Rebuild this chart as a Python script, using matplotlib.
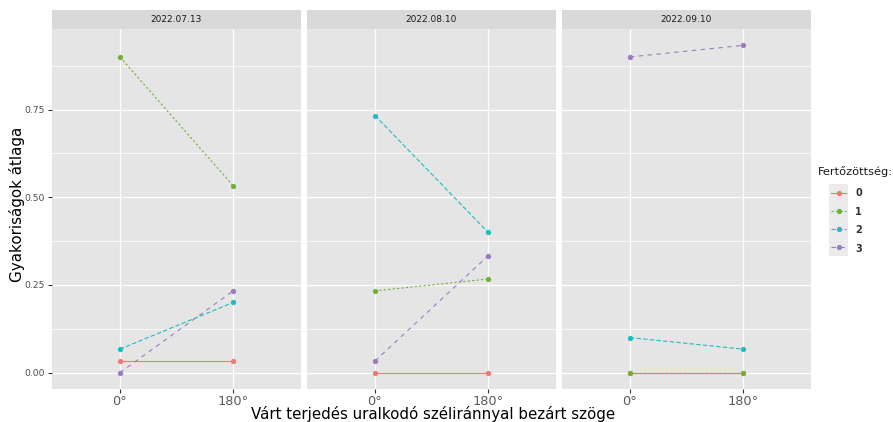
import numpy as np
import matplotlib.pyplot as plt
from matplotlib.lines import Line2D
from matplotlib.patches import Rectangle

# mean frequency by infection level, per sampling date and wind angle
dates = ["2022.07.13", "2022.08.10", "2022.09.10"]
angles = ["0°", "180°"]
levels = ["0", "1", "2", "3"]
means = {
    "2022.07.13": {"0": [0.033, 0.033], "1": [0.9, 0.533], "2": [0.067, 0.2], "3": [0.0, 0.233]},
    "2022.08.10": {"0": [0.0, 0.0], "1": [0.233, 0.267], "2": [0.733, 0.4], "3": [0.033, 0.333]},
    "2022.09.10": {"0": [0.0, 0.0], "1": [0.0, 0.0], "2": [0.1, 0.067], "3": [0.9, 0.933]},
}
yticks = [0.0, 0.25, 0.5, 0.75]

colors = {"0": "#F07A72", "1": "#72B03E", "2": "#1DBDC2", "3": "#9C7BC4"}
styles = {"0": "-", "1": (0, (2, 2)), "2": (0, (4, 2)), "3": (0, (4, 4))}

W, H = 893, 422
fig = plt.figure(figsize=(W / 100, H / 100), dpi=100)

def box(x0, y0, x1, y1):
    return [x0 / W, 1 - y1 / H, (x1 - x0) / W, (y1 - y0) / H]

panel_x = [(52, 301), (307, 556), (562, 811)]
ymax = 0.933
ylim = (-0.05 * ymax, 1.05 * ymax)

for i, d in enumerate(dates):
    x0, x1 = panel_x[i]
    ax = fig.add_axes(box(x0, 29, x1, 389))
    ax.set_facecolor("#E5E5E5")
    for s in ax.spines.values():
        s.set_visible(False)
    ax.set_xlim(0.4, 2.6)
    ax.set_ylim(*ylim)
    ax.set_yticks(yticks)
    ax.set_yticks([0.125, 0.375, 0.625, 0.875], minor=True)
    ax.set_xticks([1, 2])
    ax.set_xticklabels(angles, fontsize=9.3, color="#5A5A5A")
    ax.grid(True, which="major", color="white", linewidth=0.9)
    ax.grid(True, which="minor", axis="y", color="white", linewidth=0.5)
    ax.set_axisbelow(True)
    ax.tick_params(axis="x", length=3, color="#333333", pad=1)
    ax.tick_params(which="minor", length=0)
    if i == 0:
        ax.set_yticklabels(["0.00", "0.25", "0.50", "0.75"], fontsize=6.7, color="#4D4D4D")
        ax.tick_params(axis="y", length=3, color="#333333", pad=2)
    else:
        ax.tick_params(axis="y", length=0, labelleft=False)
    for lv in levels:
        ax.plot([1, 2], means[d][lv], color=colors[lv], linestyle=styles[lv],
                linewidth=0.8, marker="o", markersize=3.8, markeredgewidth=0)

    # facet strip
    sx = fig.add_axes(box(x0, 10, x1, 29))
    sx.set_facecolor("#D9D9D9")
    sx.set_xticks([])
    sx.set_yticks([])
    for s in sx.spines.values():
        s.set_visible(False)
    sx.text(0.5, 0.5, d, ha="center", va="center", fontsize=6.5, color="#1A1A1A")

fig.text(17 / W, 1 - 204 / H, "Gyakoriságok átlaga", rotation=90, ha="center",
         va="center", fontsize=10.9, color="black")
fig.text(433 / W, 1 - 414 / H, "Várt terjedés uralkodó széliránnyal bezárt szöge",
         ha="center", va="center", fontsize=10.8, color="black")

# legend
fig.text(818 / W, 1 - 172 / H, "Fertőzöttség:", ha="left", va="center",
         fontsize=8.2, color="#1A1A1A")
lg = fig.add_axes(box(829, 184, 848, 256))
lg.set_xlim(0, 1)
lg.set_ylim(0, 4)
lg.axis("off")
lg.add_patch(Rectangle((0, 0), 1, 4, facecolor="#EBEBEB", edgecolor="none"))
for k, lv in enumerate(levels):
    yy = 3.5 - k
    lg.add_line(Line2D([0.1, 0.9], [yy, yy], color=colors[lv], linestyle=styles[lv],
                       linewidth=0.8))
    lg.plot([0.5], [yy], marker="o", color=colors[lv], markersize=3.8, markeredgewidth=0)
    fig.text(855 / W, 1 - (193 + 18.5 * k) / H, lv, ha="left", va="center",
             fontsize=7, fontweight="bold", color="#333333")

fig.savefig("out.png", dpi=100, facecolor="white")
